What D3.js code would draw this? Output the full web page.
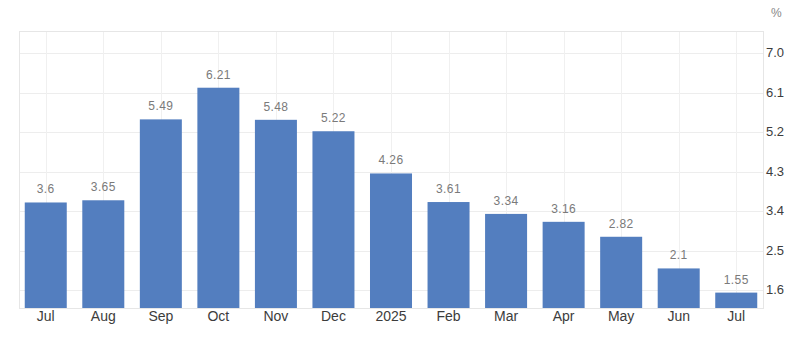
<!DOCTYPE html>
<html>
<head>
<meta charset="utf-8">
<script src="https://cdn.jsdelivr.net/npm/d3@7"></script>
<style>
  body { margin: 0; background: #fff; }
  svg { display: block; font-family: "Liberation Sans", Arial, sans-serif; }
</style>
</head>
<body>
<svg id="chart" width="800" height="342"></svg>
<script>
// chart data
const months = ["Jul", "Aug", "Sep", "Oct", "Nov", "Dec", "2025", "Feb", "Mar", "Apr", "May", "Jun", "Jul"];
const values = [3.6, 3.65, 5.49, 6.21, 5.48, 5.22, 4.26, 3.61, 3.34, 3.16, 2.82, 2.1, 1.55];
const labels = ["3.6", "3.65", "5.49", "6.21", "5.48", "5.22", "4.26", "3.61", "3.34", "3.16", "2.82", "2.1", "1.55"];
const yTicks = [1.6, 2.5, 3.4, 4.3, 5.2, 6.1, 7.0];

const svg = d3.select("#chart");
// plot box (window.top is reserved, so prefixed names)
const plotLeft = 19, plotRight = 763, plotTop = 31, plotBottom = 308;

const x = d3.scaleBand()
    .domain(d3.range(months.length))
    .range([plotLeft, plotRight])
    .paddingInner(0.27)
    .paddingOuter(0.1);

const y = d3.scaleLinear()
    .domain([1.2, 7.5])
    .range([plotBottom, plotTop]);

// grid lines
svg.append("g")
    .selectAll("line")
    .data(yTicks)
    .join("line")
    .attr("x1", plotLeft).attr("x2", plotRight)
    .attr("y1", d => Math.round(y(d)) + 0.5)
    .attr("y2", d => Math.round(y(d)) + 0.5)
    .attr("stroke", "#ededed");

svg.append("g")
    .selectAll("line")
    .data(d3.range(months.length))
    .join("line")
    .attr("x1", d => Math.round(x(d) + x.bandwidth() / 2) + 0.5)
    .attr("x2", d => Math.round(x(d) + x.bandwidth() / 2) + 0.5)
    .attr("y1", plotTop).attr("y2", plotBottom)
    .attr("stroke", "#f0f0f0");

// plot frame
svg.append("rect")
    .attr("x", plotLeft + 0.5).attr("y", plotTop + 0.5)
    .attr("width", plotRight - plotLeft).attr("height", plotBottom - plotTop)
    .attr("fill", "none")
    .attr("stroke", "#e6e6e6");

// bars
svg.append("g")
    .selectAll("rect")
    .data(values)
    .join("rect")
    .attr("x", (d, i) => x(i))
    .attr("y", d => y(d))
    .attr("width", x.bandwidth())
    .attr("height", d => plotBottom - y(d))
    .attr("fill", "#537ebf");

// value labels
svg.append("g")
    .selectAll("text")
    .data(values)
    .join("text")
    .attr("x", (d, i) => x(i) + x.bandwidth() / 2)
    .attr("y", d => y(d) - 9)
    .attr("text-anchor", "middle")
    .attr("font-size", "12px")
    .attr("letter-spacing", "0.4px")
    .attr("fill", "#7a7a7a")
    .text((d, i) => labels[i]);

// x axis labels
svg.append("g")
    .selectAll("text")
    .data(months)
    .join("text")
    .attr("x", (d, i) => x(i) + x.bandwidth() / 2)
    .attr("y", 321)
    .attr("text-anchor", "middle")
    .attr("font-size", "14px")
    .attr("fill", "#3c3c3c")
    .text(d => d);

// right y axis labels
svg.append("g")
    .selectAll("text")
    .data(yTicks)
    .join("text")
    .attr("x", 766)
    .attr("y", d => y(d) + 4)
    .attr("font-size", "13px")
    .attr("fill", "#3c3c3c")
    .text(d => d.toFixed(1));

svg.append("text")
    .attr("x", 771).attr("y", 17)
    .attr("font-size", "12px")
    .attr("fill", "#888")
    .text("%");
</script>
</body>
</html>
